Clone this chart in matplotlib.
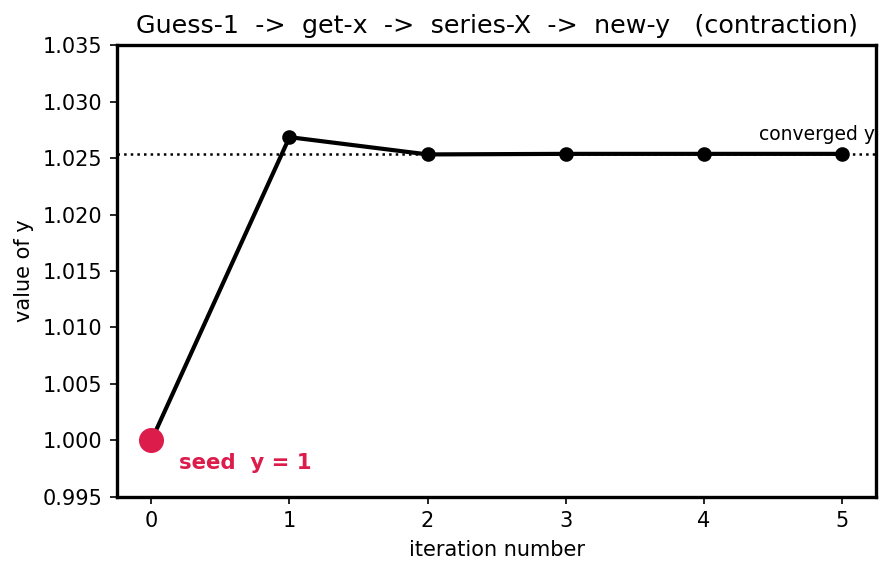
import matplotlib
matplotlib.use("Agg")
import matplotlib.pyplot as plt

iterations = [0, 1, 2, 3, 4, 5]
y_values = [1.0, 1.02686, 1.02533, 1.02538, 1.02538, 1.02538]
converged_y = 1.02538
seed_y = 1.0

fig = plt.figure(figsize=(893 / 150, 573 / 150), dpi=150)
ax = fig.add_axes([0.131, 0.133, 0.85, 0.788])

ax.plot(iterations, y_values, color="black", linewidth=2, marker="o", markersize=6, zorder=3)
ax.axhline(converged_y, color="black", linestyle=":", linewidth=1.2, zorder=2)
ax.plot([iterations[0]], [seed_y], "o", color="#DC1C4B", markersize=11, zorder=4)

ax.text(0.2, 0.9975, "seed  y = 1", color="#DC1C4B", fontsize=10.2, fontweight="bold")
ax.text(4.4, 1.0266, "converged y", fontsize=9, clip_on=True)

ax.set_xlim(-0.25, 5.25)
ax.set_ylim(0.995, 1.035)
ax.set_xticks(iterations)
ax.set_yticks([0.995 + 0.005 * i for i in range(9)])
ax.yaxis.set_major_formatter(matplotlib.ticker.FormatStrFormatter("%.3f"))
ax.set_xlabel("iteration number")
ax.set_ylabel("value of y")
ax.set_title("Guess-1  ->  get-x  ->  series-X  ->  new-y   (contraction)", fontsize=12.2)
for s in ax.spines.values():
    s.set_linewidth(1.6)

fig.savefig("out.png", dpi=150)
